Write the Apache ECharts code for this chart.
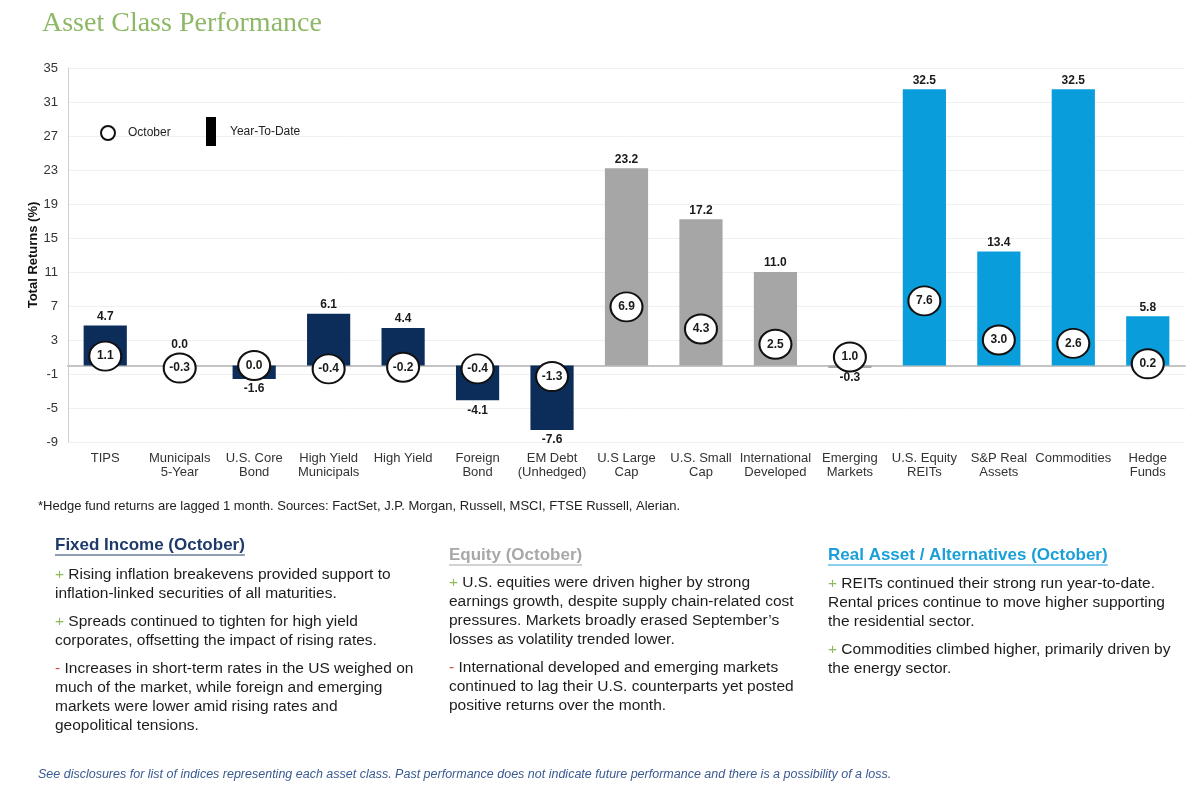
<!DOCTYPE html>
<html>
<head>
<meta charset="utf-8">
<script src="https://cdn.jsdelivr.net/npm/echarts@6/dist/echarts.min.js"></script>
<style>
html,body{margin:0;padding:0;background:#fff;}
#chart{width:1200px;height:791px;}
</style>
</head>
<body>
<div id="chart"></div>
<script>
// ---- Data ----
const categories = ['TIPS', 'Municipals\n5-Year', 'U.S. Core\nBond', 'High Yield\nMunicipals', 'High Yield',
  'Foreign\nBond', 'EM Debt\n(Unhedged)', 'U.S Large\nCap', 'U.S. Small\nCap', 'International\nDeveloped',
  'Emerging\nMarkets', 'U.S. Equity\nREITs', 'S&P Real\nAssets', 'Commodities', 'Hedge\nFunds'];
const groups = ['fixed','fixed','fixed','fixed','fixed','fixed','fixed',
  'equity','equity','equity','equity','real','real','real','real'];
const ytd = [4.7, 0.0, -1.6, 6.1, 4.4, -4.1, -7.6, 23.2, 17.2, 11.0, -0.3, 32.5, 13.4, 32.5, 5.8];
const october = [1.1, -0.3, 0.0, -0.4, -0.2, -0.4, -1.3, 6.9, 4.3, 2.5, 1.0, 7.6, 3.0, 2.6, 0.2];
const yTicks = [-9, -5, -1, 3, 7, 11, 15, 19, 23, 27, 31, 35];

const title = 'Asset Class Performance';
const footnote = '*Hedge fund returns are lagged 1 month. Sources: FactSet, J.P. Morgan, Russell, MSCI, FTSE Russell, Alerian.';
const disclaimer = 'See disclosures for list of indices representing each asset class. Past performance does not indicate future performance and there is a possibility of a loss.';
const columns = [
  { heading: 'Fixed Income (October)', color: '#1f3a6a', x: 55, hy: 545, by: 575,
    paras: [
      ['+', 'Rising inflation breakevens provided support to\ninflation-linked securities of all maturities.'],
      ['+', 'Spreads continued to tighten for high yield\ncorporates, offsetting the impact of rising rates.'],
      ['-', 'Increases in short-term rates in the US weighed on\nmuch of the market, while foreign and emerging\nmarkets were lower amid rising rates and\ngeopolitical tensions.']
    ]},
  { heading: 'Equity (October)', color: '#a8a8a8', x: 449, hy: 555, by: 583,
    paras: [
      ['+', 'U.S. equities were driven higher by strong\nearnings growth, despite supply chain-related cost\npressures. Markets broadly erased September\u2019s\nlosses as volatility trended lower.'],
      ['-', 'International developed and emerging markets\ncontinued to lag their U.S. counterparts yet posted\npositive returns over the month.']
    ]},
  { heading: 'Real Asset / Alternatives (October)', color: '#1a9fd9', x: 828, hy: 555, by: 584,
    paras: [
      ['+', 'REITs continued their strong run year-to-date.\nRental prices continue to move higher supporting\nthe residential sector.'],
      ['+', 'Commodities climbed higher, primarily driven by\nthe energy sector.']
    ]}
];

// ---- Styles ----
const groupColors = { fixed: '#0c2c5a', equity: '#a6a6a6', real: '#0a9ddb' };
const FONT = 'Liberation Sans, Arial, sans-serif';
const PX_PER_UNIT = 374 / 44;

const measureCtx = document.createElement('canvas').getContext('2d');
function textWidth(t, font) { measureCtx.font = font; return measureCtx.measureText(t).width; }

const graphics = [];
graphics.push({ type: 'text', left: 42, top: 10,
  style: { text: title, font: '28px "Liberation Serif", "DejaVu Serif", serif', fill: '#8db865' } });
graphics.push({ type: 'text', left: 38, top: 500,
  style: { text: footnote, font: '13px ' + FONT, fill: '#222' } });
graphics.push({ type: 'text', left: 38, top: 768,
  style: { text: disclaimer, font: 'italic 12.5px ' + FONT, fill: '#3a5a92' } });

const LH = 19;
const BFS = 15.5;
columns.forEach(col => {
  const hfont = 'bold 17px ' + FONT;
  graphics.push({ type: 'text', x: col.x, y: col.hy, style: { text: col.heading, font: hfont, fill: col.color, textVerticalAlign: 'middle' } });
  const w = textWidth(col.heading, hfont);
  graphics.push({ type: 'line', shape: { x1: col.x, y1: col.hy + 10, x2: col.x + w, y2: col.hy + 10 }, style: { stroke: col.color, lineWidth: 1.2 } });
  let y = col.by;
  col.paras.forEach(p => {
    const sym = p[0] === '+' ? '{g|+}' : '{r|-}';
    const lines = p[1].split('\n');
    graphics.push({ type: 'text', x: col.x, y: y - LH / 2,
      style: { text: sym + ' ' + p[1], fontSize: BFS, fontFamily: FONT, fill: '#1c1c1c', lineHeight: LH,
        rich: { g: { fill: '#8dba5c', fontSize: BFS, fontFamily: FONT, lineHeight: LH },
                r: { fill: '#e0483a', fontSize: BFS, fontFamily: FONT, lineHeight: LH } } } });
    y += lines.length * LH + 9;
  });
});

const chart = echarts.init(document.getElementById('chart'), null, { renderer: 'canvas' });
chart.setOption({
  animation: false,
  backgroundColor: '#fff',
  textStyle: { fontFamily: FONT },
  grid: { left: 68, right: 15, top: 68, bottom: 349, containLabel: false },
  legend: [
    { data: [{ name: 'October', icon: 'circle', itemStyle: { color: '#fff', borderColor: '#111', borderWidth: 2 } }],
      left: 95, top: 120, itemWidth: 26, itemHeight: 14, textStyle: { fontSize: 12, color: '#222', padding: [0, 0, 0, 2] }, selectedMode: false },
    { data: [{ name: 'Year-To-Date', icon: 'rect', itemStyle: { color: '#000' } }],
      left: 201, top: 112, itemWidth: 10, itemHeight: 29, textStyle: { fontSize: 12, color: '#222', padding: [0, 0, 0, 9] }, selectedMode: false }
  ],
  xAxis: {
    type: 'category', data: categories,
    axisLine: { onZero: true, lineStyle: { color: '#c4c4c4', width: 2 } },
    axisTick: { show: false },
    axisLabel: { fontSize: 13, color: '#333', lineHeight: 14, interval: 0, margin: 9 },
    position: 'bottom'
  },
  yAxis: {
    type: 'value', min: -9, max: 35, interval: 4,
    name: 'Total Returns (%)', nameLocation: 'middle', nameGap: 28, nameMoveOverlap: false,
    nameTextStyle: { fontSize: 13, fontWeight: 'bold', color: '#111' },
    axisLine: { show: true, lineStyle: { color: '#d0d0d0' } },
    axisTick: { show: false },
    axisLabel: { fontSize: 13, color: '#333', margin: 10,
      formatter: v => yTicks.includes(v) ? String(v) : '' },
    splitLine: { lineStyle: { color: '#f0f0f0' } }
  },
  series: [
    {
      name: 'Year-To-Date', type: 'bar', barWidth: '58%',
      data: ytd.map((v, i) => ({ value: v, itemStyle: { color: groupColors[groups[i]] },
        label: { position: v < 0 ? 'bottom' : 'top',
                 distance: v < 0 ? 4 : Math.max(3, (october[i] - v) * PX_PER_UNIT + 17) } })),
      label: { show: true, formatter: p => p.value.toFixed(1), fontSize: 12, fontWeight: 'bold', color: '#1a1a1a' },
      z: 2
    },
    {
      name: 'October', type: 'scatter', symbol: 'circle', symbolSize: [32, 29],
      data: october,
      itemStyle: { color: '#fff', borderColor: '#111', borderWidth: 2, opacity: 1 },
      label: { show: true, position: 'inside', formatter: p => p.value.toFixed(1), fontSize: 12, fontWeight: 'bold', color: '#1a1a1a' },
      z: 5
    }
  ],
  graphic: graphics
});
</script>
</body>
</html>
